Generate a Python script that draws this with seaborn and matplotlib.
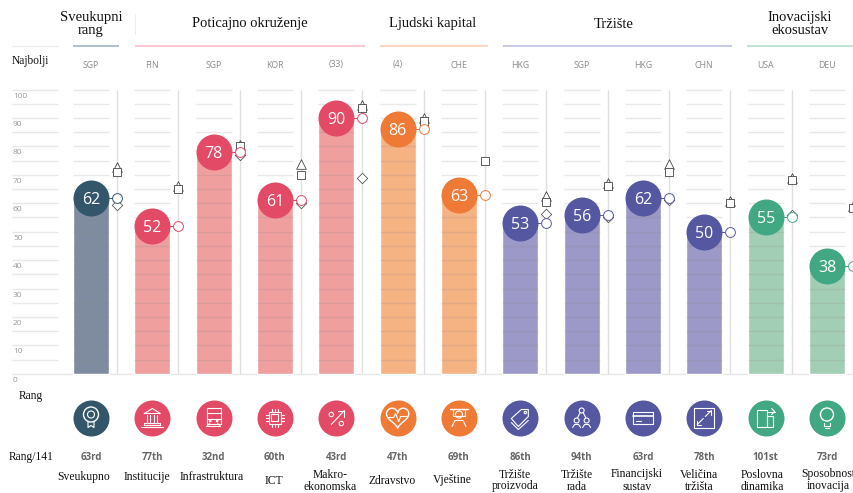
import matplotlib
matplotlib.use('Agg')
import matplotlib.pyplot as plt
import numpy as np
import pandas as pd
import seaborn as sns

pillars = ['Sveukupno', 'Institucije', 'Infrastruktura', 'ICT', 'Makroekonomska', 'Zdravstvo', 'Vjestine',
           'Proizvodi', 'Rad', 'Financije', 'Velicina', 'Dinamika', 'Inovacije']
groups = ['all', 'env', 'env', 'env', 'env', 'hum', 'hum', 'mkt', 'mkt', 'mkt', 'mkt', 'eco', 'eco']
scores = [62, 52, 78, 61, 90, 86, 63, 53, 56, 62, 50, 55, 38]
# comparison markers, None where nothing is visible
triangle = [72.8, 66, 80.5, 73.8, 94.5, 90, None, 62.6, 67, 73.8, 60.8, 68.8, 59]
square = [71, 65, 80, 70, 93.5, 89, 74.7, 60.4, 66.2, 71, 60, 68, 58.3]
diamond = [59.5, None, 77, 60, 69, None, None, 56.2, 55, 61, None, 56, None]
best = ['SGP', 'FIN', 'SGP', 'KOR', '(33)', '(4)', 'CHE', 'HKG', 'SGP', 'HKG', 'CHN', 'USA', 'DEU']
ranks = ['63rd', '77th', '32nd', '60th', '43rd', '47th', '69th', '86th', '94th', '63rd', '78th', '101st', '73rd']
names = ['Sveukupno', 'Institucije', 'Infrastruktura', 'ICT', 'Makro-\nekonomska', 'Zdravstvo', 'Vještine',
         'Tržište\nproizvoda', 'Tržište\nrada', 'Financijski\nsustav', 'Veličina\ntržišta',
         'Poslovna\ndinamika', 'Sposobnost\ninovacija']
name_x = [84, 147, 212, 274, 330, 392, 452, 515, 577, 637, 699, 762, 828]
yticks = [0, 10, 20, 30, 40, 50, 60, 70, 80, 90, 100]

bar_col = {'all': '#7f8c9f', 'env': '#ef9f9e', 'hum': '#f5b283', 'mkt': '#9c98c8', 'eco': '#a3ceb6'}
dot_col = {'all': '#34566b', 'env': '#e34a66', 'hum': '#ef7a36', 'mkt': '#5558a0', 'eco': '#42a884'}
headers = [('Sveukupni\nrang', 91, 73, 119, '#a7bcc4'),
           ('Poticajno okruženje', 250, 135, 365, '#f8c4cd'),
           ('Ljudski kapital', 433, 380, 488, '#fbd3b8'),
           ('Tržište', 614, 503, 732, '#c5c6e4'),
           ('Inovacijski\nekosustav', 800, 747, 854, '#b7e0cf')]

W, H = 854, 493
STEP = 61.33
X0 = 91
Y0 = 373.8
PX = 2.843
BAR_W = 36 / STEP
VOFF = 26 / STEP
GREY = '#e8e8e8'
SANS = ['Open Sans', 'DejaVu Sans']

df = pd.DataFrame({'pillar': pillars, 'score': scores, 'group': groups})

sns.set_theme(style='white')
plt.rcParams['font.family'] = ['Liberation Serif', 'DejaVu Sans']
fig = plt.figure(figsize=(W / 100, H / 100), dpi=100)
ax = fig.add_axes([0, 0, 1, 1])
sns.barplot(data=df, x='pillar', y='score', hue='pillar', dodge=False, legend=False, width=BAR_W, saturation=1,
            palette=[bar_col[g] for g in groups], ax=ax, zorder=2)
ax.set_xlim(-X0 / STEP, (W - X0) / STEP)
ax.set_ylim((Y0 - H) / PX, Y0 / PX)
ax.axis('off')

# grid stubs: light above the bars, slightly darker where they cross a bar
pos = np.arange(len(pillars))
vals = np.array(scores)
for v in range(5, 105, 5):
    ax.hlines(np.full(len(pos), v), pos - BAR_W / 2, pos + BAR_W / 2, color=GREY, lw=1, zorder=1)
    inside = pos[vals > v]
    ax.hlines(np.full(len(inside), v), inside - BAR_W / 2, inside + BAR_W / 2, color='#8a8a8a', alpha=0.2, lw=1,
              zorder=3)
    ax.hlines(v, (12 - X0) / STEP, (58 - X0) / STEP, color=GREY, lw=1, zorder=1)
ax.hlines(0, (12 - X0) / STEP, (W - X0) / STEP, color=GREY, lw=1, zorder=1)
ax.vlines(pos + VOFF, 0, 100, color='#e0e0e0', lw=1, zorder=1)

for i, g in enumerate(groups):
    c = dot_col[g]
    mx = i + VOFF
    ax.plot([i, mx], [scores[i], scores[i]], color=c, lw=0.7, zorder=4)
    if triangle[i] is not None:
        ax.scatter(mx, triangle[i], marker='^', s=48, fc='white', ec='#444444', lw=0.6, zorder=5)
    if diamond[i] is not None:
        ax.scatter(mx, diamond[i], marker='D', s=28, fc='white', ec='#555555', lw=0.6, zorder=5)
    if square[i] is not None:
        ax.scatter(mx, square[i], marker='s', s=34, fc='white', ec='#444444', lw=0.6, zorder=6)
    ax.scatter(mx, scores[i], marker='o', s=50, fc='white', ec=c, lw=0.7, zorder=7)
    ax.scatter(i, scores[i], marker='o', s=672, color=c, lw=0, zorder=8)
    ax.text(i, scores[i], str(scores[i]), color='white', ha='center', va='center_baseline', fontsize=11.5,
            family=SANS, zorder=9)

# layout text and icons live in a pixel overlay
ov = fig.add_axes([0, 0, 1, 1], facecolor='none')
ov.set_xlim(0, W)
ov.set_ylim(H, 0)
ov.axis('off')

for label, cx, x1, x2, col in headers:
    ov.text(cx, 24, label, ha='center', va='center', fontsize=10.5, color='#111111', linespacing=1.05)
    ov.plot([x1, x2], [46, 46], color=col, lw=1.3, solid_capstyle='butt')
ov.plot([12, 58], [46, 46], color='#eeeeee', lw=1)
ov.plot([135, 135], [14, 34], color='#eeeeee', lw=0.8)

ov.text(12, 61, 'Najbolji', ha='left', va='center', fontsize=8.3, color='#111111')
ov.text(31, 396, 'Rang', ha='center', va='center', fontsize=8.3, color='#111111')
ov.text(31, 457, 'Rang/141', ha='center', va='center', fontsize=8.3, color='#111111')
for t in yticks:
    ov.text(13, Y0 - t * PX + 6.5, str(t), ha='left', va='center', fontsize=6, color='#999999', family=SANS)


def stroke(cx, cy, pts, closed=False, lw=0.8):
    pts = list(pts)
    p = np.array(pts + [pts[0]] if closed else pts, dtype=float)
    ov.plot(cx + p[:, 0], cy + p[:, 1], color='white', lw=lw, zorder=12, solid_capstyle='round')


def ring(cx, cy, x, y, r, lw=0.8):
    ov.add_patch(plt.Circle((cx + x, cy + y), r, fc='none', ec='white', lw=lw, zorder=12))


def box(cx, cy, x1, y1, x2, y2):
    stroke(cx, cy, [(x1, y1), (x2, y1), (x2, y2), (x1, y2)], closed=True)


def draw_icon(i, cx, cy):
    if i == 0:
        ring(cx, cy, 0, -3, 7.5, 1)
        ring(cx, cy, 0, -3, 3.5)
        stroke(cx, cy, [(-3, 4), (-3, 10), (0, 8), (3, 10), (3, 4)])
    elif i == 1:
        stroke(cx, cy, [(-8, -4), (0, -9), (8, -4)], closed=True)
        for x in (-5, -2, 2, 5):
            stroke(cx, cy, [(x, -3), (x, 4)])
        box(cx, cy, -8, 5, 8, 7)
        stroke(cx, cy, [(-11, 9), (11, 9)])
    elif i == 2:
        box(cx, cy, -7, -10, 7, 6)
        stroke(cx, cy, [(-7, 1), (7, 1)])
        stroke(cx, cy, [(-7, -5), (7, -5)])
        stroke(cx, cy, [(-4, 6), (-7, 9), (7, 9), (4, 6)])
        ring(cx, cy, -3.5, 3.5, 0.8)
        ring(cx, cy, 3.5, 3.5, 0.8)
    elif i == 3:
        box(cx, cy, -6, -6, 6, 6)
        box(cx, cy, -3.5, -3.5, 3.5, 3.5)
        for d in (-3, 0, 3):
            stroke(cx, cy, [(d, -9), (d, -6)])
            stroke(cx, cy, [(d, 6), (d, 9)])
            stroke(cx, cy, [(-9, d), (-6, d)])
            stroke(cx, cy, [(6, d), (9, d)])
    elif i == 4:
        stroke(cx, cy, [(-5, 7), (8, -7)])
        stroke(cx, cy, [(2, -7), (8, -7), (8, -1)])
        ring(cx, cy, -5, -3, 2.2)
        ring(cx, cy, 5, 6, 2.2)
    elif i == 5:
        t = np.linspace(0, 2 * np.pi, 50)
        hx = 0.7 * 16 * np.sin(t) ** 3
        hy = -0.7 * (13 * np.cos(t) - 5 * np.cos(2 * t) - 2 * np.cos(3 * t) - np.cos(4 * t))
        stroke(cx, cy, zip(hx, hy - 1), lw=1)
        stroke(cx, cy, [(-10, 0), (-4, 0), (-2, -4), (1, 4), (3, -1), (10, -1)])
    elif i == 6:
        stroke(cx, cy, [(-9, -9), (9, -9)], lw=1)
        box(cx, cy, -6, -9, 6, -2)
        ring(cx, cy, 0, -3, 3.5)
        stroke(cx, cy, [(-7, 9), (-4, 3), (4, 3), (7, 9)])
    elif i == 7:
        stroke(cx, cy, [(-9, 1), (1, -8), (8, -8), (8, -1), (-2, 9)], closed=True)
        stroke(cx, cy, [(-9, 5), (-2, 12), (8, 3)])
        ring(cx, cy, 5, -5, 1.2)
    elif i == 8:
        ring(cx, cy, 0, -7, 2.5)
        ring(cx, cy, -5, 3, 2.5)
        ring(cx, cy, 5, 3, 2.5)
        stroke(cx, cy, [(-4, 0), (-1.5, -5)])
        stroke(cx, cy, [(4, 0), (1.5, -5)])
        stroke(cx, cy, [(-9, 10), (-7, 7), (-3, 7), (-1, 10)])
        stroke(cx, cy, [(1, 10), (3, 7), (7, 7), (9, 10)])
    elif i == 9:
        box(cx, cy, -10, -6, 10, 6)
        stroke(cx, cy, [(-10, -2), (10, -2)], lw=1.2)
        stroke(cx, cy, [(-7, 3), (-2, 3)])
    elif i == 10:
        box(cx, cy, -10, -10, 10, 10)
        stroke(cx, cy, [(1, -1), (7, -7)])
        stroke(cx, cy, [(3, -7), (7, -7), (7, -3)])
        stroke(cx, cy, [(-1, 1), (-7, 7)])
        stroke(cx, cy, [(-7, 3), (-7, 7), (-3, 7)])
    elif i == 11:
        box(cx, cy, -9, -8, 1, 9)
        box(cx, cy, 1, -2, 7, 9)
        stroke(cx, cy, [(2, -6), (9, -6)])
        stroke(cx, cy, [(6, -9), (9, -6), (6, -3)])
        for x in (-6, -3, -1):
            for y in (-5, -1, 3, 6):
                stroke(cx, cy, [(x, y), (x + 0.8, y)])
    else:
        ring(cx, cy, 0, -3, 6.5, 1)
        stroke(cx, cy, [(-3, 5), (-3, 8), (3, 8), (3, 5)])
        stroke(cx, cy, [(-2, 10), (2, 10)])


for i, g in enumerate(groups):
    cx = X0 + i * STEP
    ov.text(cx, 65, best[i], ha='center', va='center', fontsize=6.3, color='#8a8a8a', family=SANS)
    ov.scatter(cx, 417.5, s=672, color=dot_col[g], lw=0, zorder=11)
    draw_icon(i, cx, 417.5)
    ov.text(cx, 458, ranks[i], ha='center', va='center', fontsize=7, color='#666666', family=SANS,
            fontweight='bold')
    two = '\n' in names[i]
    one_low = names[i] in ('ICT', 'Zdravstvo', 'Vještine')
    ov.text(name_x[i], 480.5 if two or one_low else 477, names[i], ha='center', va='center', fontsize=8.4,
            color='#111111', linespacing=1.0)

fig.savefig('out.png', dpi=100)
